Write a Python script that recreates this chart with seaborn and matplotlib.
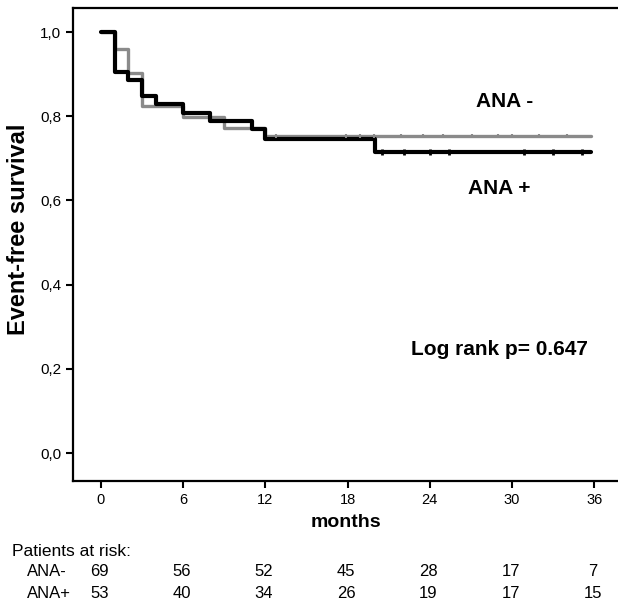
import matplotlib
matplotlib.use("Agg")
import matplotlib.pyplot as plt
import seaborn as sns
import pandas as pd

# Kaplan-Meier steps
ana_neg_time = [0, 1, 2, 3, 6, 9, 12, 35.8]
ana_neg_surv = [1.0, 0.959, 0.902, 0.825, 0.799, 0.771, 0.753, 0.753]
ana_pos_time = [0, 1, 2, 3, 4, 6, 8, 11, 12, 20, 35.8]
ana_pos_surv = [1.0, 0.906, 0.886, 0.849, 0.828, 0.808, 0.789, 0.769, 0.745,
                0.716, 0.716]

# censored observations (small ticks on the curves)
ana_neg_cens = [12.8, 17.9, 18.9, 19.9, 21.9, 23.5, 25.0, 27.1, 29.0, 30.0,
                32.0, 34.0]
ana_pos_cens = [20.5, 22.1, 24.0, 25.4, 30.9, 33.0, 35.1]

# patients at risk table
risk_months = [0, 6, 12, 18, 24, 30, 36]
risk_neg = [69, 56, 52, 45, 28, 17, 7]
risk_pos = [53, 40, 34, 26, 19, 17, 15]

sns.set_style('white')
plt.rcParams['font.family'] = ['Liberation Sans', 'DejaVu Sans']
plt.rcParams['text.color'] = 'black'
plt.rcParams['axes.labelcolor'] = 'black'

GRAY = '#8a8a8a'
BLACK = '#000000'

fig = plt.figure(figsize=(6.18, 6.03), dpi=100)
ax = fig.add_axes([0.118, 0.2023, 0.882, 0.7844])

neg = pd.DataFrame({'months': ana_neg_time, 'surv': ana_neg_surv})
pos = pd.DataFrame({'months': ana_pos_time, 'surv': ana_pos_surv})

sns.lineplot(data=neg, x='months', y='surv', estimator=None, sort=False,
             drawstyle='steps-post', color=GRAY, linewidth=2.4, ax=ax)
sns.scatterplot(x=ana_neg_cens, y=[ana_neg_surv[-1]] * len(ana_neg_cens),
                marker='|', s=12, linewidth=1.5, color=GRAY, ax=ax, zorder=3)
sns.lineplot(data=pos, x='months', y='surv', estimator=None, sort=False,
             drawstyle='steps-post', color=BLACK, linewidth=3.0, ax=ax)
sns.scatterplot(x=ana_pos_cens, y=[ana_pos_surv[-1]] * len(ana_pos_cens),
                marker='|', s=14, linewidth=2.0, color=BLACK, ax=ax, zorder=4)

ax.set_xlim(-2.04, 37.74)
ax.set_ylim(-0.0665, 1.057)
ax.set_xticks(risk_months)
ax.set_yticks([0, 0.2, 0.4, 0.6, 0.8, 1.0])
ax.set_yticklabels(['0,0', '0,2', '0,4', '0,6', '0,8', '1,0'])
ax.tick_params(axis='both', direction='out', length=5, width=1.5,
               colors='black', bottom=True, left=True)
ax.tick_params(axis='x', labelsize=10.5)
ax.tick_params(axis='y', labelsize=11)
ax.spines['right'].set_visible(False)
for s in ['left', 'bottom', 'top']:
    ax.spines[s].set_linewidth(1.6)
    ax.spines[s].set_color('black')

ax.set_xlabel('months', fontsize=14, fontweight='bold', labelpad=5)
ax.set_ylabel('Event-free survival', fontsize=17, fontweight='bold')
ax.yaxis.set_label_coords(-0.078, 0.533)

ax.text(29.5, 0.836, 'ANA -', fontsize=15, fontweight='bold',
        ha='center', va='center')
ax.text(29.1, 0.629, 'ANA +', fontsize=15, fontweight='bold',
        ha='center', va='center')
ax.text(29.1, 0.245, 'Log rank p= 0.647', fontsize=15, fontweight='bold',
        ha='center', va='center')

# patients at risk below the axis
trans = ax.get_xaxis_transform()
fig.text(12 / 618, 1 - 551 / 603, 'Patients at risk:', fontsize=12.5,
         ha='left', va='center')
fig.text(27 / 618, 1 - 572 / 603, 'ANA-', fontsize=12, ha='left',
         va='center')
fig.text(27 / 618, 1 - 593 / 603, 'ANA+', fontsize=12, ha='left',
         va='center')
y_neg = (1 - 572 / 603 - 0.2023) / 0.7844
y_pos = (1 - 593 / 603 - 0.2023) / 0.7844
for m, a, b in zip(risk_months, risk_neg, risk_pos):
    ax.text(m - 0.1, y_neg, str(a), transform=trans, fontsize=12,
            ha='center', va='center', clip_on=False)
    ax.text(m - 0.1, y_pos, str(b), transform=trans, fontsize=12,
            ha='center', va='center', clip_on=False)

fig.savefig('out.png', dpi=100)
